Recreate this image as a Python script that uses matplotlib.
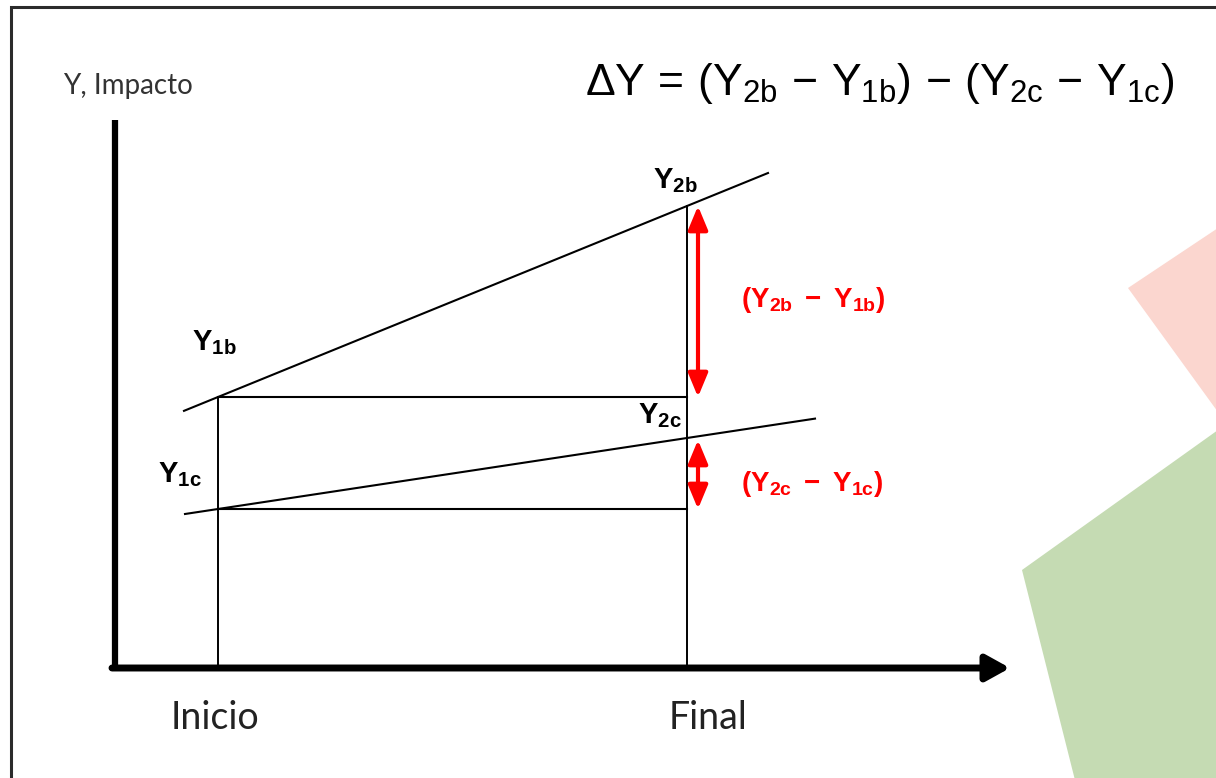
import numpy as np
import matplotlib
matplotlib.use("Agg")
import matplotlib.pyplot as plt
from matplotlib.patches import Polygon

plt.rcParams["mathtext.fontset"] = "custom"
plt.rcParams["mathtext.rm"] = "Liberation Sans"
plt.rcParams["mathtext.it"] = "Liberation Sans"
plt.rcParams["mathtext.bf"] = "Liberation Sans:bold"

# diagram values (canvas units, y grows downward)
periods = ["Inicio", "Final"]
period_x = [218, 687]
treat_y = [397, 206]      # Y1b, Y2b
ctrl_y = [509, 438]       # Y1c, Y2c
treat_span = [184, 768]   # extent of the treatment trend line
ctrl_span = [185, 815]    # extent of the control trend line

point_labels = [r"$\mathbf{Y_{1b}}$", r"$\mathbf{Y_{2b}}$",
                r"$\mathbf{Y_{1c}}$", r"$\mathbf{Y_{2c}}$"]
diff_labels = [r"$\mathbf{(Y_{2b}\ -\ Y_{1b})}$", r"$\mathbf{(Y_{2c}\ -\ Y_{1c})}$"]
formula = r"$\Delta Y\,=\,(Y_{2b}\,-\,Y_{1b})\,-\,(Y_{2c}\,-\,Y_{1c})$"

pink_shape = [(1128, 288), (1260, 200), (1260, 470)]
green_shape = [(1022, 570), (1260, 400), (1260, 800), (1080, 800)]


def trend(xs, px, py):
    # straight line through the two observed points
    k, b = np.polyfit(px, py, 1)
    return [k * x + b for x in xs]


fig = plt.figure(figsize=(12.16, 7.78), dpi=100)
ax = fig.add_axes([0, 0, 1, 1])
ax.set_xlim(0, 1216)
ax.set_ylim(778, 0)
ax.axis("off")

# background shapes
ax.add_patch(Polygon(pink_shape, closed=True, color="#fbd6cf", lw=0))
ax.add_patch(Polygon(green_shape, closed=True, color="#c5dbb3", lw=0))

# frame
ax.plot([11, 11, 1216], [778, 7, 7], color="#2b2b2b", lw=2.2, solid_joinstyle="miter")

# axes of the diagram
ax.plot([115, 115], [120, 671], color="black", lw=4.5, solid_capstyle="butt")
ax.annotate("", xy=(1010, 668), xytext=(112, 668),
            arrowprops=dict(arrowstyle="-|>,head_length=0.65,head_width=0.36",
                            color="black", lw=5, mutation_scale=22, shrinkA=0, shrinkB=0))
ax.text(63, 86, "Y, Impacto", fontsize=20, family="Lato", color="#333333",
        ha="left", va="center")

# period verticals and labels
ax.plot([period_x[0], period_x[0]], [treat_y[0], 668], color="black", lw=1.4)
ax.plot([period_x[1], period_x[1]], [treat_y[1], 668], color="black", lw=1.4)
for name, x in zip(periods, [215, 708]):
    ax.text(x, 718, name, fontsize=27, family="Lato", color="#222222",
            ha="center", va="center")

# trend lines
ax.plot(treat_span, trend(treat_span, period_x, treat_y), color="black", lw=1.5)
ax.plot(ctrl_span, trend(ctrl_span, period_x, ctrl_y), color="black", lw=1.5)

# baseline horizontals
ax.plot(period_x, [treat_y[0], treat_y[0]], color="black", lw=1.5)
ax.plot(period_x, [ctrl_y[0], ctrl_y[0]], color="black", lw=1.5)

# point labels
ax.text(192, 350, point_labels[0], fontsize=21, ha="left", va="baseline")
ax.text(653, 188, point_labels[1], fontsize=21, ha="left", va="baseline")
ax.text(158, 482, point_labels[2], fontsize=21, ha="left", va="baseline")
ax.text(638, 423, point_labels[3], fontsize=21, ha="left", va="baseline")

# red double arrows
arrow_x = 698
for y0, y1 in [(treat_y[1], treat_y[0]), (ctrl_y[1] + 2, ctrl_y[0])]:
    ax.annotate("", xy=(arrow_x, y0), xytext=(arrow_x, y1),
                arrowprops=dict(arrowstyle="<|-|>,head_length=0.65,head_width=0.27",
                                color="#ff0000", lw=3, mutation_scale=22,
                                shrinkA=0, shrinkB=0))

ax.text(741, 307, diff_labels[0], fontsize=20, color="#ff0000", ha="left", va="baseline")
ax.text(741, 491, diff_labels[1], fontsize=20, color="#ff0000", ha="left", va="baseline")

# formula
ax.text(585, 95, formula, fontsize=32, color="black", ha="left", va="baseline")

fig.savefig("out.png", dpi=100)
